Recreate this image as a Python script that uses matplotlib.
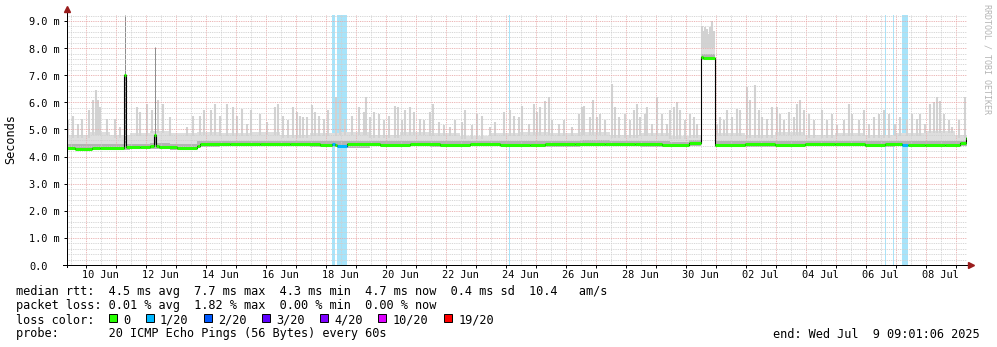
import numpy as np
import matplotlib.pyplot as plt
from matplotlib import transforms
from matplotlib.patches import Rectangle

plt.rcParams['font.family'] = 'DejaVu Sans Mono'

# time axis in days since 2025-06-09 00:00; graph ends Wed Jul 9 09:01:06
t_end = 30 + 9 / 24 + 1 / 1440 + 6 / 86400
t_start = t_end - 30

date_labels = ['10 Jun', '12 Jun', '14 Jun', '16 Jun', '18 Jun', '20 Jun', '22 Jun',
               '24 Jun', '26 Jun', '28 Jun', '30 Jun', '02 Jul', '04 Jul', '06 Jul', '08 Jul']
label_days = [1, 3, 5, 7, 9, 11, 13, 15, 17, 19, 21, 23, 25, 27, 29]
y_labels = ['0.0', '1.0 m', '2.0 m', '3.0 m', '4.0 m', '5.0 m', '6.0 m', '7.0 m', '8.0 m', '9.0 m']

# median rtt (ms), piecewise constant from each start time
median_t = [0.377, 0.64, 1.21, 1.48, 2.29, 2.34, 2.81, 3.14, 3.28, 3.34,
            3.44, 4.04, 4.71, 4.81, 5.81, 6.81, 7.81, 8.81, 9.21, 9.31,
            9.38, 9.71, 10.81, 11.81, 12.81, 13.81, 14.81, 15.81, 16.31, 17.31,
            18.31, 19.31, 20.21, 21.11, 21.50, 21.58, 21.99, 22.98, 23.98, 24.98,
            25.98, 26.98, 27.64, 28.21, 28.41, 28.98, 29.64, 30.14, 30.33]
median_v = [4.31, 4.29, 4.30, 4.33, 7.00, 4.35, 4.34, 4.38, 4.78, 4.38,
            4.34, 4.30, 4.40, 4.45, 4.47, 4.45, 4.46, 4.44, 4.45, 4.44,
            4.40, 4.45, 4.43, 4.45, 4.44, 4.46, 4.44, 4.43, 4.45, 4.48,
            4.47, 4.45, 4.41, 4.50, 7.68, 7.62, 4.42, 4.45, 4.44, 4.46,
            4.45, 4.44, 4.45, 4.44, 4.44, 4.41, 4.44, 4.50, 4.70]
median_loss = [0, 0, 0, 0, 0, 0, 0, 0, 0, 0,
               0, 0, 0, 0, 0, 0, 0, 0, 1, 0,
               1, 0, 0, 0, 0, 0, 0, 0, 0, 0,
               0, 0, 0, 0, 0, 0, 0, 0, 0, 0,
               0, 0, 0, 1, 0, 0, 0, 0, 0]

# smoke: lowest ping, top of the dense part, top of the light body
smoke_t = [0.377, 1.14, 1.81, 2.48, 3.14, 3.81, 4.71, 5.48, 6.48, 7.48,
           8.48, 9.48, 10.48, 11.48, 12.48, 13.48, 14.48, 15.48, 16.48, 17.48,
           18.48, 19.48, 20.48, 21.11, 21.50, 21.99, 22.98, 23.98, 24.98, 25.98,
           26.98, 27.98, 28.98, 29.98]
smoke_lo = [4.24, 4.24, 4.25, 4.27, 4.27, 4.25, 4.36, 4.38, 4.38, 4.38,
            4.37, 4.33, 4.38, 4.38, 4.37, 4.38, 4.38, 4.35, 4.37, 4.40,
            4.40, 4.37, 4.35, 4.40, 7.55, 4.35, 4.37, 4.38, 4.38, 4.38,
            4.37, 4.38, 4.35, 4.38]
smoke_mid = [4.45, 4.48, 4.45, 4.47, 4.50, 4.45, 4.57, 4.57, 4.56, 4.57,
             4.56, 4.57, 4.56, 4.57, 4.56, 4.56, 4.57, 4.56, 4.58, 4.60,
             4.59, 4.56, 4.54, 4.60, 7.80, 4.56, 4.56, 4.57, 4.56, 4.57,
             4.56, 4.56, 4.56, 4.57]
smoke_hi = [4.80, 4.90, 4.80, 4.85, 4.95, 4.85, 4.90, 4.85, 4.90, 4.80,
            4.85, 4.90, 4.80, 4.90, 4.85, 4.75, 4.85, 4.90, 4.85, 4.90,
            4.80, 4.85, 4.75, 4.80, 8.10, 4.85, 4.80, 4.90, 4.80, 4.85,
            4.80, 4.85, 4.95, 4.80]

# single slow pings poking out of the smoke
spike_t = [0.40, 0.58, 0.74, 0.88, 1.11, 1.24, 1.34, 1.41, 1.48, 1.71,
           1.98, 2.14, 2.71, 2.81, 3.04, 3.21, 3.41, 3.58, 3.81, 4.38,
           4.58, 4.81, 4.94, 5.18, 5.31, 5.48, 5.71, 5.91, 6.04, 6.21,
           6.38, 6.51, 6.81, 7.04, 7.31, 7.41, 7.58, 7.74, 7.91, 8.04,
           8.14, 8.24, 8.38, 8.54, 8.64, 8.78, 8.94, 9.08, 9.34, 9.48,
           9.64, 9.88, 10.11, 10.28, 10.34, 10.48, 10.61, 10.78, 10.94, 11.11,
           11.31, 11.41, 11.54, 11.64, 11.81, 11.94, 12.14, 12.28, 12.48, 12.58,
           12.78, 12.94, 13.14, 13.31, 13.54, 13.64, 13.88, 14.04, 14.21, 14.48,
           14.64, 14.94, 15.14, 15.28, 15.44, 15.54, 15.78, 15.94, 16.04, 16.14,
           16.31, 16.44, 16.54, 16.78, 16.94, 17.21, 17.44, 17.54, 17.61, 17.81,
           17.91, 18.04, 18.14, 18.31, 18.54, 18.64, 18.78, 18.98, 19.14, 19.28,
           19.38, 19.48, 19.64, 19.71, 19.88, 20.04, 20.21, 20.38, 20.48, 20.61,
           20.71, 20.81, 20.98, 21.14, 21.28, 21.38, 21.54, 21.61, 21.64, 21.71,
           21.78, 21.81, 21.88, 21.94, 22.04, 22.14, 22.28, 22.38, 22.54, 22.71,
           22.81, 23.04, 23.14, 23.31, 23.44, 23.54, 23.71, 23.88, 24.04, 24.14,
           24.28, 24.44, 24.61, 24.71, 24.81, 24.94, 25.11, 25.28, 25.54, 25.71,
           25.88, 26.04, 26.28, 26.44, 26.54, 26.78, 26.94, 27.11, 27.28, 27.44,
           27.61, 27.78, 27.98, 28.14, 28.38, 28.54, 28.71, 28.81, 28.98, 29.14,
           29.28, 29.38, 29.48, 29.61, 29.78, 29.88, 30.11, 30.31]
spike_v = [5.33, 5.51, 5.21, 5.39, 5.70, 6.07, 6.46, 6.07, 5.82, 5.39,
           5.39, 5.08, 5.82, 5.64, 5.94, 5.70, 6.07, 5.94, 5.45, 5.08,
           5.51, 5.51, 5.70, 5.70, 5.94, 5.51, 5.94, 5.82, 5.51, 5.76,
           5.21, 5.70, 5.58, 5.27, 5.82, 5.94, 5.51, 5.33, 5.82, 5.64,
           5.51, 5.45, 5.45, 5.90, 5.64, 5.51, 5.39, 5.70, 6.19, 6.07,
           5.39, 5.51, 5.82, 5.64, 6.19, 5.45, 5.64, 5.58, 5.33, 5.51,
           5.88, 5.82, 5.33, 5.70, 5.82, 5.64, 5.39, 5.33, 5.64, 5.94,
           5.27, 5.15, 5.08, 5.33, 5.27, 5.70, 5.15, 5.58, 5.51, 5.08,
           5.27, 5.64, 5.70, 5.51, 5.45, 5.88, 5.20, 5.94, 5.64, 5.82,
           6.06, 6.19, 5.33, 5.20, 5.33, 5.08, 5.58, 5.82, 5.88, 5.45,
           6.07, 5.45, 5.58, 5.33, 6.68, 5.82, 5.45, 5.58, 5.33, 5.70,
           5.94, 5.45, 5.58, 5.82, 5.20, 6.19, 5.57, 5.21, 5.70, 5.82,
           6.00, 5.70, 5.33, 5.57, 5.45, 5.21, 8.82, 8.64, 8.76, 8.70,
           8.52, 8.76, 9.01, 8.64, 5.21, 5.45, 5.33, 5.70, 5.45, 5.76,
           5.70, 6.56, 6.07, 6.62, 5.70, 5.45, 5.39, 5.82, 5.82, 5.57,
           5.33, 5.64, 5.45, 5.94, 6.07, 5.70, 5.57, 5.33, 5.70, 5.33,
           5.58, 5.15, 5.33, 5.94, 5.58, 5.33, 5.70, 5.20, 5.45, 5.58,
           5.70, 5.58, 5.20, 5.45, 5.33, 5.58, 5.39, 5.58, 5.20, 5.94,
           6.00, 6.19, 6.06, 5.58, 5.33, 5.08, 5.33, 6.19]
outlier_t = [2.31, 3.31]
outlier_v = [9.22, 8.03]

# periods with packet loss (1/20)
loss_t0 = [9.21, 9.377, 13.06, 15.10, 27.63, 27.90, 28.20, 28.29, 28.35]
loss_t1 = [9.31, 9.70, 13.09, 15.13, 27.66, 27.93, 28.26, 28.34, 28.42]

loss_labels = ['0', '1/20', '2/20', '3/20', '4/20', '10/20', '19/20']
loss_colors = ['#26ff00', '#00b8ff', '#0059ff', '#5e00ff', '#7e00ff', '#dd00ff', '#ff0000']

W, H = 997, 347
axis_fs = 7.4
legend_fs = 8.55

fig = plt.figure(figsize=(W / 100, H / 100), dpi=100)
fig.patch.set_facecolor('white')
ax = fig.add_axes([67 / W, 1 - 265 / H, 900 / W, 250 / H])
ax.set_xlim(t_start, t_end)
ax.set_ylim(0, 9.22)
for s in ax.spines.values():
    s.set_visible(False)

# loss background
for a, b in zip(loss_t0, loss_t1):
    ax.axvspan(a, b, color='#a8e4fa', lw=0, zorder=0.5)

# smoke
st = smoke_t + [t_end]
ax.fill_between(st, smoke_lo + smoke_lo[-1:], smoke_hi + smoke_hi[-1:], step='post',
                color='#dedede', lw=0, zorder=1)
idx = np.searchsorted(smoke_t, spike_t, side='right') - 1
base = np.array(smoke_hi)[idx] - 0.1
ax.vlines(spike_t, base, spike_v, color='#d2d2d2', lw=1.5, zorder=1.1)
ax.fill_between(st, smoke_lo + smoke_lo[-1:], smoke_mid + smoke_mid[-1:], step='post',
                color='#b4b4b4', lw=0, zorder=1.2)
ax.vlines(outlier_t, 4.5, outlier_v, color='#8a8a8a', lw=0.7, zorder=1.3)

# grid on top of smoke, rrdtool style
ax.set_xticks(np.arange(1, 31))
ax.set_xticks(np.arange(0.5, 30.5, 1.0), minor=True)
ax.set_yticks(np.arange(0, 10))
ax.set_yticks(np.arange(0, 9.21, 0.2), minor=True)
ax.grid(which='major', color='#e8a8a8', ls=(0, (1, 1)), lw=0.65)
ax.grid(which='minor', color='#cfcfcf', ls=(0, (1, 1)), lw=0.65)
ax.set_axisbelow(False)
ax.tick_params(labelbottom=False, labelleft=False)
ax.tick_params(which='major', axis='x', length=2, width=0.7, direction='out')
ax.tick_params(which='major', axis='y', length=2, width=0.7, direction='out')
ax.tick_params(which='minor', length=0)

# median line: black connector + coloured by loss
mt = median_t + [t_end]
ax.step(mt, median_v + median_v[-1:], where='post', color='black', lw=0.8, zorder=3)
ax.hlines(median_v, median_t, mt[1:], colors=[loss_colors[l] for l in median_loss],
          lw=2.2, zorder=3.5, capstyle='butt')

# axes with arrows
ax.plot([0, 0], [-0.008, 1.016], transform=ax.transAxes, color='black', lw=0.72,
        clip_on=False, zorder=5)
ax.plot([-0.004, 1.0], [0, 0], transform=ax.transAxes, color='black', lw=0.72,
        clip_on=False, zorder=5)
ax.plot([0], [1.024], marker='^', ms=4, color='#9a1c1c', transform=ax.transAxes,
        clip_on=False, zorder=6)
ax.plot([1.004], [0], marker='>', ms=4, color='#9a1c1c', transform=ax.transAxes,
        clip_on=False, zorder=6)

# tick labels
xtr = transforms.blended_transform_factory(ax.transData, ax.transAxes)
for d, lab in zip(label_days, date_labels):
    ax.text(d + 0.5, -13.5 / 250, lab, transform=xtr, ha='center', va='baseline',
            fontsize=axis_fs, clip_on=False)
ytr = transforms.offset_copy(transforms.blended_transform_factory(ax.transAxes, ax.transData),
                             fig=fig, y=-4.5, units='dots')
for i, lab in enumerate(y_labels):
    ax.text(-38 / 900, i, lab, transform=ytr, ha='left', va='baseline',
            fontsize=axis_fs, clip_on=False)

fig.text(11 / W, 1 - 139 / H, 'Seconds', rotation=90, ha='center', va='center',
         fontsize=legend_fs)
fig.text(987 / W, 1 - 4 / H, 'RRDTOOL / TOBI OETIKER', rotation=270, ha='center',
         va='top', fontsize=6, color='#b4b4b4')

# legend block
rows = [295.5, 309.5, 323.5, 337.5]
fig.text(16 / W, 1 - rows[0] / H,
         'median rtt:  4.5 ms avg  7.7 ms max  4.3 ms min  4.7 ms now  0.4 ms sd  10.4   am/s',
         fontsize=legend_fs, va='baseline')
fig.text(16 / W, 1 - rows[1] / H,
         'packet loss: 0.01 % avg  1.82 % max  0.00 % min  0.00 % now',
         fontsize=legend_fs, va='baseline')
fig.text(16 / W, 1 - rows[2] / H, 'loss color:', fontsize=legend_fs, va='baseline')
cw = 0.602 * legend_fs * 100 / 72
x = 16 + 13 * cw
for lab, col in zip(loss_labels, loss_colors):
    fig.add_artist(Rectangle((x / W, 1 - 322 / H), 8 / W, 8 / H, transform=fig.transFigure,
                             facecolor=col, edgecolor='black', lw=0.7))
    fig.text((x + 2 * cw) / W, 1 - rows[2] / H, lab, fontsize=legend_fs, va='baseline')
    x += (4 + len(lab)) * cw + 1
fig.text(16 / W, 1 - rows[3] / H, 'probe:       20 ICMP Echo Pings (56 Bytes) every 60s',
         fontsize=legend_fs, va='baseline')
fig.text(980 / W, 1 - rows[3] / H, 'end: Wed Jul  9 09:01:06 2025', fontsize=legend_fs,
         va='baseline', ha='right')

fig.savefig('out.png', dpi=100)
